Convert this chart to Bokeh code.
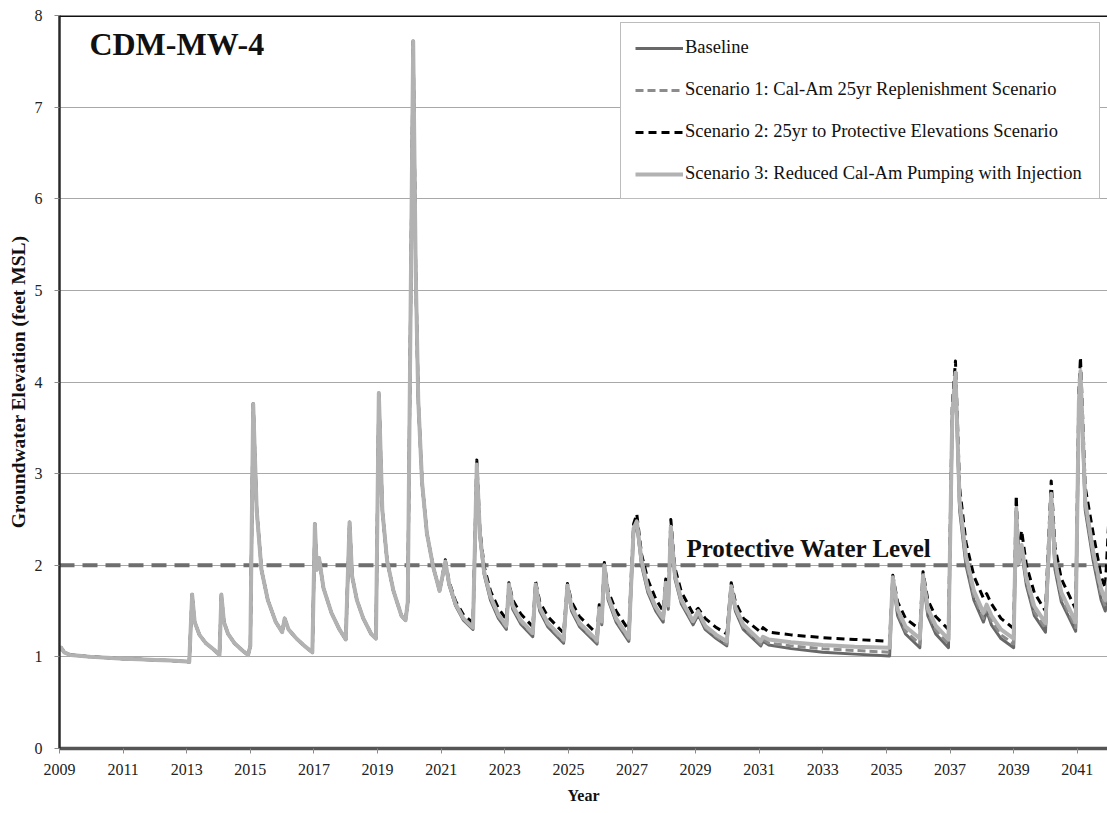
from bokeh.plotting import figure
from bokeh.models import FixedTicker, Span, Label, Legend, LegendItem, BasicTickFormatter
from bokeh.embed import file_html
from bokeh.resources import INLINE

# --- data -------------------------------------------------------------------
# Calibration period (identical for every scenario)
years_hist = [2009.00, 2009.05, 2009.15, 2009.35, 2009.70, 2010.00, 2010.50, 2011.00,
              2011.50, 2012.00, 2012.50, 2013.00, 2013.08, 2013.17, 2013.25, 2013.40,
              2013.60, 2013.85, 2014.03, 2014.09, 2014.17, 2014.30, 2014.50, 2014.75,
              2014.93, 2015.00, 2015.09, 2015.20, 2015.35, 2015.55, 2015.80, 2016.00,
              2016.08, 2016.20, 2016.45, 2016.70, 2016.95, 2017.03, 2017.09, 2017.16,
              2017.30, 2017.55, 2017.80, 2018.00, 2018.12, 2018.20, 2018.35, 2018.55,
              2018.80, 2018.95, 2019.04, 2019.15, 2019.30, 2019.50, 2019.75, 2019.88,
              2019.95, 2020.12, 2020.20, 2020.28, 2020.40, 2020.55, 2020.75, 2020.95]
level_hist = [1.08, 1.10, 1.05, 1.02, 1.01, 1.00, 0.99, 0.98,
              0.975, 0.965, 0.96, 0.95, 0.945, 1.68, 1.38, 1.24,
              1.15, 1.08, 1.02, 1.68, 1.38, 1.25, 1.15, 1.07,
              1.02, 1.12, 3.76, 2.60, 1.95, 1.62, 1.38, 1.27,
              1.42, 1.30, 1.20, 1.12, 1.05, 2.45, 1.95, 2.08,
              1.75, 1.48, 1.30, 1.19, 2.47, 1.88, 1.62, 1.42,
              1.25, 1.20, 3.88, 2.60, 2.05, 1.72, 1.45, 1.40,
              1.60, 7.72, 5.20, 3.80, 2.90, 2.35, 1.98, 1.72]

# Projection period
years_proj = [2021.13, 2021.25, 2021.45, 2021.70, 2022.00,
              2022.12, 2022.22, 2022.35, 2022.55, 2022.80,
              2023.05, 2023.13, 2023.25, 2023.50, 2023.88,
              2023.97, 2024.10, 2024.35, 2024.85, 2024.97,
              2025.10, 2025.35, 2025.90, 2025.97, 2026.05,
              2026.13, 2026.25, 2026.50, 2026.90, 2027.05,
              2027.15, 2027.30, 2027.50, 2027.75, 2027.98,
              2028.06, 2028.14, 2028.22, 2028.35, 2028.55,
              2028.92, 2029.08, 2029.30, 2029.65, 2029.98,
              2030.12, 2030.25, 2030.50, 2031.05, 2031.12,
              2031.30, 2032.00, 2033.00, 2034.00, 2035.10,
              2035.20, 2035.35, 2035.60, 2036.05, 2036.15,
              2036.30, 2036.55, 2036.95, 2037.07, 2037.17,
              2037.30, 2037.50, 2037.75, 2038.05, 2038.15,
              2038.30, 2038.60, 2039.00, 2039.08, 2039.15,
              2039.25, 2039.40, 2039.65, 2040.00, 2040.18,
              2040.30, 2040.50, 2040.95, 2041.05, 2041.10,
              2041.25, 2041.50, 2041.75, 2041.88, 2042.05]

baseline_proj = [2.02, 1.78, 1.56, 1.40, 1.30,
                 3.08, 2.30, 1.90, 1.62, 1.42,
                 1.30, 1.76, 1.52, 1.36, 1.22,
                 1.76, 1.50, 1.33, 1.15, 1.75,
                 1.50, 1.33, 1.14, 1.50, 1.35,
                 1.98, 1.62, 1.38, 1.17, 2.35,
                 2.45, 2.00, 1.70, 1.50, 1.38,
                 1.78, 1.52, 2.38, 1.85, 1.58,
                 1.35, 1.46, 1.30, 1.20, 1.12,
                 1.75, 1.50, 1.30, 1.12, 1.17,
                 1.13, 1.09, 1.05, 1.03, 1.01,
                 1.85, 1.45, 1.25, 1.10, 1.85,
                 1.45, 1.25, 1.10, 3.60, 4.03,
                 2.60, 2.00, 1.62, 1.38, 1.50,
                 1.35, 1.20, 1.10, 2.55, 2.00,
                 2.15, 1.78, 1.45, 1.27, 2.72,
                 1.95, 1.60, 1.28, 3.70, 4.05,
                 2.60, 2.05, 1.62, 1.50, 1.90]

scenario1_proj = [2.03, 1.79, 1.57, 1.41, 1.31,
                  3.10, 2.32, 1.92, 1.64, 1.44,
                  1.32, 1.78, 1.54, 1.38, 1.24,
                  1.78, 1.52, 1.35, 1.17, 1.77,
                  1.52, 1.35, 1.16, 1.51, 1.37,
                  2.00, 1.64, 1.40, 1.19, 2.37,
                  2.47, 2.02, 1.72, 1.52, 1.40,
                  1.80, 1.54, 2.40, 1.87, 1.60,
                  1.37, 1.48, 1.32, 1.22, 1.14,
                  1.76, 1.52, 1.32, 1.14, 1.19,
                  1.15, 1.12, 1.09, 1.07, 1.05,
                  1.86, 1.48, 1.28, 1.14, 1.87,
                  1.48, 1.29, 1.14, 3.62, 4.06,
                  2.64, 2.04, 1.66, 1.42, 1.53,
                  1.39, 1.24, 1.14, 2.58, 2.02,
                  2.18, 1.82, 1.49, 1.31, 2.75,
                  1.99, 1.64, 1.32, 3.72, 4.08,
                  2.64, 2.10, 1.67, 1.55, 1.95]

scenario2_proj = [2.06, 1.82, 1.61, 1.46, 1.37,
                  3.15, 2.38, 1.99, 1.72, 1.53,
                  1.41, 1.81, 1.62, 1.47, 1.33,
                  1.82, 1.60, 1.44, 1.26, 1.80,
                  1.60, 1.44, 1.25, 1.57, 1.45,
                  2.03, 1.72, 1.50, 1.29, 2.45,
                  2.56, 2.12, 1.84, 1.63, 1.50,
                  1.85, 1.62, 2.50, 1.97, 1.71,
                  1.47, 1.53, 1.42, 1.32, 1.25,
                  1.81, 1.60, 1.42, 1.27, 1.32,
                  1.27, 1.24, 1.21, 1.19, 1.17,
                  1.89, 1.60, 1.42, 1.30, 1.93,
                  1.62, 1.44, 1.30, 3.75, 4.23,
                  2.85, 2.25, 1.88, 1.64, 1.69,
                  1.58, 1.42, 1.31, 2.76, 2.15,
                  2.38, 2.00, 1.70, 1.50, 2.92,
                  2.20, 1.85, 1.52, 3.90, 4.27,
                  2.85, 2.35, 1.88, 1.75, 2.90]

scenario3_proj = [2.04, 1.80, 1.58, 1.42, 1.32,
                  3.10, 2.33, 1.93, 1.66, 1.46,
                  1.34, 1.79, 1.56, 1.40, 1.26,
                  1.79, 1.54, 1.37, 1.19, 1.78,
                  1.54, 1.37, 1.18, 1.53, 1.39,
                  2.00, 1.66, 1.42, 1.21, 2.40,
                  2.48, 2.05, 1.75, 1.54, 1.42,
                  1.81, 1.56, 2.42, 1.89, 1.62,
                  1.39, 1.50, 1.34, 1.24, 1.17,
                  1.77, 1.54, 1.35, 1.17, 1.22,
                  1.19, 1.16, 1.13, 1.11, 1.10,
                  1.87, 1.52, 1.33, 1.20, 1.89,
                  1.53, 1.34, 1.19, 3.65, 4.10,
                  2.70, 2.10, 1.72, 1.48, 1.57,
                  1.45, 1.30, 1.20, 2.62, 2.02,
                  2.22, 1.86, 1.55, 1.37, 2.78,
                  2.05, 1.70, 1.38, 3.78, 4.12,
                  2.70, 2.15, 1.74, 1.62, 2.00]

protective_level = 2.0
x_ticks = list(range(2009, 2042, 2))
y_ticks = list(range(0, 9))

series_labels = ["Baseline",
                 "Scenario 1: Cal-Am 25yr Replenishment Scenario",
                 "Scenario 2: 25yr to Protective Elevations Scenario",
                 "Scenario 3: Reduced Cal-Am Pumping with Injection"]

SERIF = "Liberation Serif"

# --- figure -----------------------------------------------------------------
p = figure(width=1107, height=813, output_backend="svg", toolbar_location=None,
           x_range=(2009, 2041.95), y_range=(0, 8),
           min_border_left=59, min_border_right=0, min_border_top=15,
           min_border_bottom=65)
p.outline_line_color = None
p.background_fill_color = "white"
p.border_fill_color = "white"

p.xgrid.visible = False
p.ygrid.ticker = FixedTicker(ticks=y_ticks)
p.ygrid.grid_line_color = "#a8a8a8"
p.ygrid.grid_line_width = 1

# axes
p.xaxis.ticker = FixedTicker(ticks=x_ticks)
p.xaxis.formatter = BasicTickFormatter(use_scientific=False)
p.yaxis.ticker = FixedTicker(ticks=y_ticks)
for ax in (p.xaxis[0], p.yaxis[0]):
    ax.major_tick_in = 0
    ax.major_tick_out = 5
    ax.minor_tick_line_color = None
    ax.major_tick_line_color = "#8a8a8a"
    ax.major_label_text_font = SERIF
    ax.major_label_text_font_size = "16px"
    ax.major_label_text_color = "#222222"
    ax.axis_label_text_font = SERIF
    ax.axis_label_text_font_style = "bold"
    ax.axis_label_text_color = "#111111"

p.xaxis.axis_label = "Year"
p.xaxis.axis_label_text_font_size = "16px"
p.xaxis.axis_line_color = "#555555"
p.xaxis.axis_line_width = 3.5
p.xaxis.major_label_standoff = 10
p.xaxis.axis_label_standoff = 9

p.yaxis.axis_label = "Groundwater Elevation (feet MSL)"
p.yaxis.axis_label_text_font_size = "19.5px"
p.yaxis.axis_line_color = "#2a2a2a"
p.yaxis.axis_line_width = 2.5
p.yaxis.major_label_standoff = 12
p.yaxis.axis_label_standoff = 3

# top border of the plotting area
p.add_layout(Span(location=8, dimension="width", line_color="#111111", line_width=3))

# protective water level reference line
p.add_layout(Span(location=protective_level, dimension="width", line_color="#6e6e6e",
                  line_width=4, line_dash="15 8", level="underlay"))

# --- series -----------------------------------------------------------------
x_all = years_hist + years_proj
r_base = p.line(x_all, level_hist + baseline_proj, line_color="#686868", line_width=3,
                line_join="round")
r_s1 = p.line(x_all, level_hist + scenario1_proj, line_color="#8c8c8c", line_width=3,
              line_dash="8 4", line_join="round")
r_s2 = p.line(x_all, level_hist + scenario2_proj, line_color="#000000", line_width=3,
              line_dash="8 5", line_join="round")
r_s3 = p.line(x_all, level_hist + scenario3_proj, line_color="#b2b2b2", line_width=4,
              line_join="round")

# --- text -------------------------------------------------------------------
p.add_layout(Label(x=2009.94, y=7.69, text="CDM-MW-4", text_font=SERIF,
                   text_baseline="alphabetic", text_font_style="bold",
                   text_font_size="32px", text_color="#111111"))
p.add_layout(Label(x=2028.71, y=2.18, text="Protective Water Level", text_font=SERIF,
                   text_baseline="alphabetic", text_font_style="bold",
                   text_font_size="25px", text_color="#111111"))

legend = Legend(items=[LegendItem(label=lbl, renderers=[r])
                       for lbl, r in zip(series_labels, [r_base, r_s1, r_s2, r_s3])],
                location=(561, 549))
legend.label_text_font = SERIF
legend.label_text_font_size = "18.5px"
legend.label_text_color = "#111111"
legend.glyph_width = 48
legend.glyph_height = 20
legend.label_height = 20
legend.label_width = 400
legend.label_standoff = 2
legend.spacing = 21
legend.padding = 14
legend.margin = 0
legend.border_line_color = "#7a7a7a"
legend.border_line_width = 1
legend.background_fill_alpha = 1
p.add_layout(legend)

open("out.html", "w").write(file_html(p, INLINE))
